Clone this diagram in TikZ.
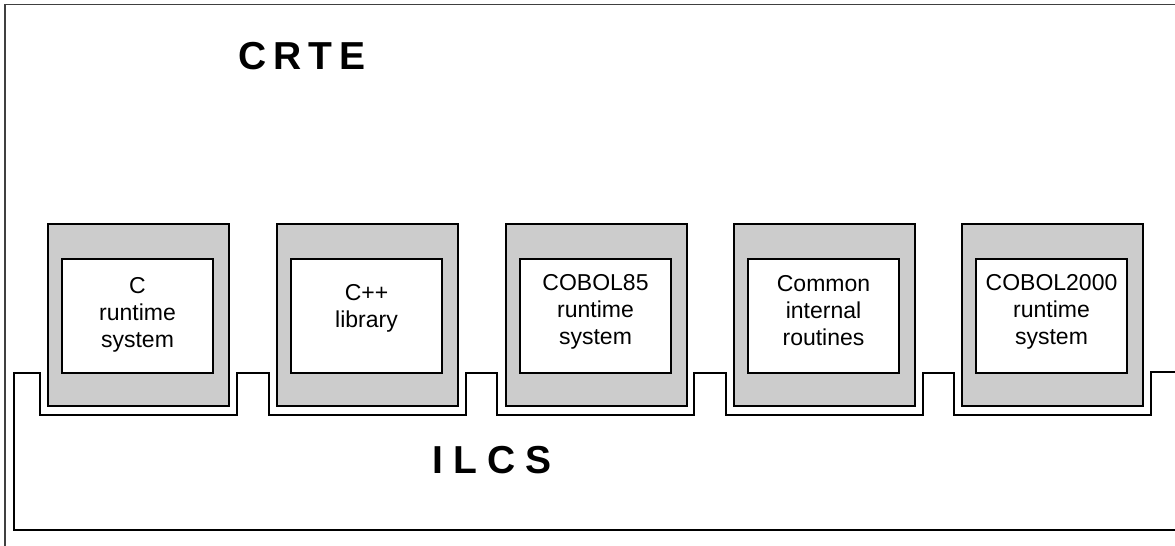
\documentclass[tikz,border=0pt]{standalone}
\usepackage{fontspec}
\setmainfont{Liberation Sans}
\usepackage{tikz}

\tikzset{
    modbox/.style={draw, line width=1.6pt, fill=black!20, minimum width=181pt, minimum height=182pt, inner sep=0pt},
    inbox/.style={draw, line width=1.6pt, fill=white, minimum width=151pt, minimum height=114pt, inner sep=0pt},
    boxtext/.style={align=center, font=\fontsize{23}{27}\selectfont, inner sep=0pt},
    bigtext/.style={font=\fontsize{39}{39}\selectfont\bfseries, inner sep=0pt}
}

\begin{document}
\begin{tikzpicture}[x=1pt, y=-1pt]
                    \useasboundingbox (0,0) rectangle (1175,546);
                    \clip (0,0) rectangle (1175,546);

                    % outer frame (CRTE)
                    \draw[black!75, line width=1.4pt] (5,560) -- (5,4.5) -- (1190,4.5);
                    \node[bigtext] (crte) at (302,56) {C\kern7pt R\kern7pt T\kern7pt E};

                    % ILCS outline
                    \draw[line width=1.6pt] (1190,372) -- (1151,372) -- (1151,415) -- (954,415)
                        -- (954,373) -- (923,373) -- (923,415) -- (726,415)
                        -- (726,373) -- (694,373) -- (694,415) -- (497,415)
                        -- (497,373) -- (466,373) -- (466,415) -- (269,415)
                        -- (269,373) -- (237,373) -- (237,415) -- (40,415)
                        -- (40,373) -- (14,373) -- (14,530) -- (1190,530);
                    \node[bigtext] (ilcs) at (492,460) {I\kern10pt L\kern10pt C\kern10pt S};

                    % the five modules
                    \foreach \x/\n/\t/\dy in {48/crts/{C\\runtime\\system}/1,
                                              277/cpp/{C++\\library}/8,
                                              506/cob/{COBOL85\\runtime\\system}/4,
                                              734/cir/{Common\\internal\\routines}/5,
                                              962/cobt/{COBOL2000\\runtime\\system}/4}{
                        \node[modbox] (\n) at (\x+90.5,315) {};
                        \node[inbox] (\n-in) at (\x+89.5,316) {};
                        \node[boxtext, yshift=\dy pt] (\n-txt) at (\n-in) {\t};
                    }
                \end{tikzpicture}
\end{document}
